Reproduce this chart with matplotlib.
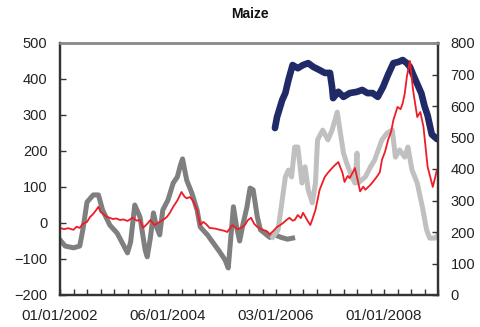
import matplotlib
matplotlib.use("Agg")
import matplotlib.pyplot as plt
import numpy as np

plt.rcParams['font.family'] = ['Liberation Sans', 'DejaVu Sans']

# weekly observations, 13 weeks between minor ticks
date_labels = ['01/01/2002', '06/01/2004', '03/01/2006', '01/01/2008']
label_weeks = [0, 104, 208, 312]

# basis series, left axis
basis_old_wk = [0, 5, 13, 19, 22, 26, 32, 37, 41, 48, 55, 61, 65, 68, 72, 77, 82, 84, 87,
                90, 93, 96, 99, 104, 109, 113, 116, 118, 122, 127, 132, 135, 142, 147, 154,
                159, 162, 167, 170, 173, 176, 180, 183, 186, 190, 193, 197, 202, 207, 213,
                219, 224]
basis_old = [-47, -64, -69, -64, -19, 58, 78, 78, 36, -6, -28, -61, -83, -53, 50, 17, -75, -94,
             -42, 28, -11, -33, 36, 64, 111, 128, 161, 178, 119, 83, 36, -11, -33, -53, -81,
             -103, -125, 45, -10, -50, -6, 44, 97, 92, 17, -19, -28, -40, -33, -40,
             -45, -42]

basis_new_wk = [205, 210, 214, 217, 220, 223, 226, 229, 233, 236, 239, 243, 246, 248, 253,
                258, 262, 267, 270, 273, 276, 281, 284, 286, 287, 294, 299, 303, 310, 315,
                320, 323, 327, 332, 335, 339, 344, 349, 353, 356, 361, 364]
basis_new = [-39, -19, 64, 128, 147, 128, 211, 211, 111, 156, 92, 56, 111, 231, 258, 231,
             258, 308, 250, 194, 167, 128, 111, 194, 111, 128, 156, 175, 231, 250, 258, 183,
             203, 183, 211, 147, 111, 44, -19, -42, -42, -33]

# futures price, right axis
futures_wk = [207, 209, 214, 217, 220, 224, 229, 234, 239, 244, 250, 255, 260, 262, 263, 268,
              273, 279, 286, 291, 296, 301, 306, 311, 316, 321, 326, 330, 334, 337, 340, 344,
              348, 351, 354, 358, 363]
futures = [530, 565, 619, 641, 683, 730, 720, 730, 736, 724, 714, 705, 705, 660, 625, 645,
           629, 641, 645, 651, 641, 641, 629, 660, 700, 736, 740, 746, 736, 724, 700, 670,
           640, 600, 570, 510, 495]

# spot price, right axis
spot_wk = [0, 4, 8, 13, 16, 19, 22, 26, 29, 31, 34, 37, 39, 42, 45, 48, 51, 54, 58, 61, 65,
           68, 70, 74, 77, 80, 84, 87, 91, 96, 100, 103, 106, 109, 113, 117, 120, 122, 125,
           128, 132, 135, 138, 141, 144, 149, 154, 158, 161, 166, 171, 175, 178, 181, 184,
           187, 190, 195, 199, 202, 206, 209, 212, 215, 218, 221, 224, 226, 229, 232, 234,
           236, 238, 241, 243, 246, 250, 255, 258, 262, 265, 268, 272, 274, 277, 279, 282,
           284, 287, 289, 292, 294, 299, 302, 305, 308, 310, 313, 316, 319, 321, 325, 328,
           330, 332, 334, 337, 340, 344, 347, 350, 354, 359, 363]
spot = [213, 209, 212, 207, 217, 213, 226, 232, 248, 254, 266, 280, 264, 256, 248, 245, 241,
        243, 238, 240, 235, 241, 245, 236, 238, 213, 226, 238, 222, 232, 240, 248, 262, 280,
        300, 327, 312, 307, 311, 300, 270, 222, 232, 224, 213, 211, 207, 204, 200, 222, 209,
        214, 222, 238, 245, 226, 216, 207, 203, 193, 205, 216, 222, 229, 238, 245, 236, 238,
        254, 244, 261, 250, 238, 222, 240, 270, 334, 375, 388, 403, 413, 422, 388, 359, 378,
        371, 390, 403, 360, 329, 344, 334, 350, 362, 375, 390, 429, 455, 493, 520, 555, 597,
        590, 609, 640, 693, 743, 650, 565, 581, 534, 407, 343, 397]

fig = plt.figure(figsize=(4.81, 3.27), dpi=100)
ax = fig.add_axes([60 / 481, 32 / 327, 378 / 481, 252 / 327])
ax2 = ax.twinx()

ax.plot(basis_old_wk, basis_old, color='#7f7f7f', lw=3.6, solid_joinstyle='round')
ax.plot(basis_new_wk, basis_new, color='#c0c0c0', lw=3.6, solid_joinstyle='round')
ax2.plot(futures_wk, futures, color='#1f2a66', lw=4.8, solid_joinstyle='round',
         solid_capstyle='round')
ax2.plot(spot_wk, spot, color='#ee1c25', lw=1.3)

ax.set_xlim(0, 364)
ax.set_ylim(-200, 500)
ax2.set_ylim(0, 800)
ax.set_yticks(np.arange(-200, 501, 100))
ax2.set_yticks(np.arange(0, 801, 100))
ax.set_xticks(np.arange(0, 365, 13))
ax.set_xticklabels([date_labels[label_weeks.index(w)] if w in label_weeks else ''
                    for w in range(0, 365, 13)])

for a in (ax, ax2):
    for side in ('left', 'right', 'bottom'):
        a.spines[side].set_color('#333333')
        a.spines[side].set_linewidth(1.6)
    a.spines['top'].set_color('#8c8c8c')
    a.spines['top'].set_linewidth(1.8)
ax.tick_params(axis='both', direction='in', length=4, width=1, color='#333333',
               labelcolor='#222222')
ax.tick_params(axis='y', labelsize=10.5, pad=9)
ax.tick_params(axis='x', labelsize=11, pad=10)
ax2.tick_params(axis='y', direction='in', length=4, width=1, color='#333333',
                labelcolor='#222222', labelsize=10.5, pad=9)

fig.text(0.52, 1 - 14 / 327, 'Maize', ha='center', va='center', fontsize=10,
         fontweight='bold', color='#111111')

fig.savefig('out.png', dpi=100)
